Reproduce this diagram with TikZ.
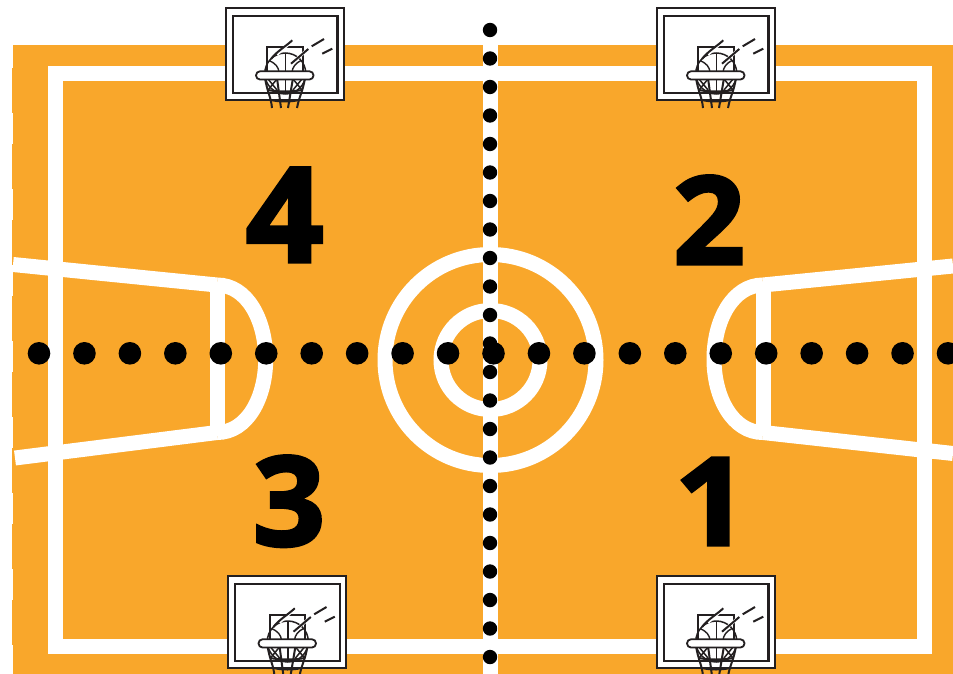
\documentclass[tikz,border=0pt]{standalone}
\usepackage{fontspec}
\newfontfamily\digitfont[BoldFeatures={FakeBold=2.6}]{Open Sans}
\definecolor{court}{HTML}{F9A72B}
\definecolor{ink}{HTML}{231F20}
\tikzset{
  courtline/.style={draw=white,line width=15pt,line join=miter},
  hdot/.style={circle,fill=black,minimum size=22.6pt,inner sep=0pt,draw=none},
  vdot/.style={circle,fill=black,minimum size=14.4pt,inner sep=0pt,draw=none},
  digit/.style={anchor=base,inner sep=0pt,text=black},
  inkline/.style={draw=ink,line width=2pt},
  hoop/.pic={
    \draw[draw=ink,fill=white,line width=2pt] (0.7,0.7) rectangle (118.5,93.3);
    \draw[draw=ink,line width=2.4pt] (7.7,9) rectangle (112.3,86);
    \draw[inkline,line width=1.7pt] (42.3,64) -- (42.3,39.7) -- (77.7,39.7) -- (77.7,64);
    \draw[inkline,line width=1.5pt] (60.3,66.5) circle (20.5);
    \draw[inkline,line width=1.4pt] (60.3,46) -- (60.3,87);
    \draw[inkline,line width=1.4pt] (44,53.5) .. controls (50,56) and (54,60) .. (54,66);
    \draw[inkline,line width=1.4pt] (76,53.5) .. controls (71,56) and (67,60) .. (67,66);
    \draw[draw=white,line width=2.8pt] (52,47.5) -- (68,33.3);
    \draw[inkline] (46,52) .. controls (51,45) and (60,40) .. (67.3,33.3);
    \draw[draw=white,line width=3pt] (66,56.7) -- (83.3,42);
    \draw[inkline] (66,56.7) -- (83.3,42);
    \draw[inkline] (86.7,39.3) -- (99,32);
    \draw[inkline] (97.3,46.7) -- (107.3,41.7);
    \draw[inkline] (40,71) .. controls (42,84) and (46,90) .. (47,101);
    \draw[inkline] (52,71) -- (56,101);
    \draw[inkline] (68,71) -- (63,101);
    \draw[inkline] (80,71) .. controls (78,84) and (74,90) .. (72,101);
    \draw[inkline,line width=1.5pt] (43,72) -- (52,83) (52,72) -- (43,83);
    \draw[inkline,line width=1.5pt] (77,72) -- (68,83) (68,72) -- (77,83);
    \draw[inkline] (43,83) .. controls (52,85) and (68,85) .. (77,83);
    \draw[inkline] (46,93) .. controls (54,95) and (66,95) .. (74,93);
    \draw[draw=ink,fill=white,line width=1.8pt,rounded corners=4pt] (31,64.3) rectangle (88.5,72.5);
  }
}
\begin{document}
\begin{tikzpicture}[x=1pt,y=-1pt]
\useasboundingbox (0,0) rectangle (953,674);
\clip (0,0) rectangle (953,674);
\fill[white] (0,0) rectangle (953,674);
\fill[court] (13,45) rectangle (953,674);
\foreach \y in {68,144,...,600} \fill[court] (12,\y) rectangle (13.5,\y+45);
% court markings
\draw[courtline] (55.5,73.5) rectangle (924.5,646.5);
\draw[courtline] (490.5,45) -- (490.5,674);
\draw[courtline] (490.5,360) circle (105.5);
\draw[courtline] (490.5,360) circle (49.5);
% left key
\draw[courtline] (13,264.5) -- (217,285);
\draw[courtline] (15,458) -- (217,432.5);
\draw[courtline] (217,285) -- (217,432.5);
\draw[courtline] (217,285) .. controls (247,285) and (265.7,320) .. (265.7,359) .. controls (265.7,398) and (247,432.5) .. (217,432.5);
% right key
\draw[courtline] (953,266) -- (763,285);
\draw[courtline] (953,453.5) -- (763,432.5);
\draw[courtline] (763,285) -- (763,432.5);
\draw[courtline] (763,285) .. controls (733,285) and (714,320) .. (714,359) .. controls (714,398) and (733,432.5) .. (763,432.5);
% hoops
\pic at (225,7) {hoop};
\pic at (656,7) {hoop};
\pic at (227.5,575) {hoop};
\pic at (656,575) {hoop};
% player numbers
\node[digit,font=\digitfont\bfseries\fontsize{132}{132}\selectfont] (four) at (284.7,262) {\scalebox{1.03}[1]{4}};
\node[digit,font=\digitfont\bfseries\fontsize{122}{122}\selectfont] (two) at (709,264) {\scalebox{1.03}[1]{2}};
\node[digit,font=\digitfont\bfseries\fontsize{124}{124}\selectfont] (three) at (289,545.5) {\scalebox{1.02}[1]{3}};
\node[digit,font=\digitfont\bfseries\fontsize{122}{122}\selectfont] (one) at (711.5,545) {\scalebox{1.05}[1]{1}};
% dotted axes
\foreach \i in {0,...,22} \node[vdot] (v\i) at (490,30+28.5*\i) {};
\foreach \i in {0,...,20} \node[hdot] (h\i) at (39+45.45*\i,353.3) {};
\end{tikzpicture}
\end{document}
